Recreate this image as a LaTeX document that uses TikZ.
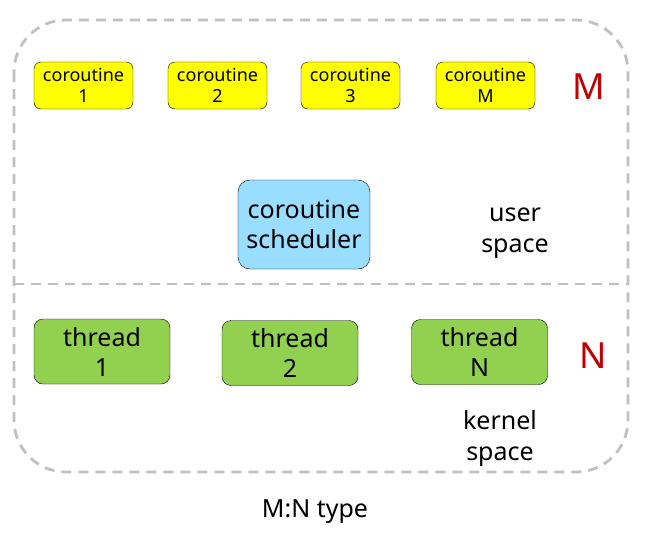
\documentclass[tikz,border=0pt]{standalone}
\usepackage{fontspec}
\setmainfont{Noto Sans}
\usepackage{xcolor}
\usetikzlibrary{positioning}

\definecolor{coyellow}{RGB}{255,255,0}
\definecolor{schedblue}{RGB}{153,221,255}
\definecolor{thgreen}{RGB}{146,208,80}
\definecolor{framegray}{RGB}{192,192,192}
\definecolor{countred}{RGB}{192,0,0}

\begin{document}
\begin{tikzpicture}[x=1pt, y=-1pt,
    corobox/.style={draw=black, fill=coyellow, rounded corners=7pt, minimum width=99pt,
        minimum height=47pt, inner sep=0pt, align=center, font=\fontsize{18}{21}\selectfont},
    schedbox/.style={draw=black, fill=schedblue, rounded corners=12pt, minimum width=132pt,
        minimum height=89pt, inner sep=0pt, align=center, font=\fontsize{25}{30}\selectfont},
    threadbox/.style={draw=black, fill=thgreen, rounded corners=9pt, minimum width=136pt,
        minimum height=65pt, inner sep=0pt, align=center, font=\fontsize{25}{30}\selectfont},
    label/.style={align=center, font=\fontsize{25}{31}\selectfont},
    count/.style={text=countred, font=\fontsize{36}{38}\selectfont},
    frame/.style={draw=framegray, line width=2.8pt, dash pattern=on 10pt off 7pt}]
    \useasboundingbox (0,0) rectangle (669,536);

    % outer frame and the user/kernel border
    \draw[frame, rounded corners=52pt] (14,20) rectangle (628,472);
    \draw[frame] (14,284) -- (628,284);

    % coroutines (M)
    \node[corobox] (co1) at (83.5,85.5) {coroutine\\1};
    \node[corobox] (co2) at (217.5,85.5) {coroutine\\2};
    \node[corobox] (co3) at (350.5,85.5) {coroutine\\3};
    \node[corobox] (coM) at (485.5,85.5) {coroutine\\M};
    \node[count] (M) at (589,87) {M};

    % scheduler
    \node[schedbox] (sched) at (304,224.5) {coroutine\\scheduler};
    \node[label] (user) at (515,233) {user\\space};

    % threads (N)
    \node[threadbox] (th1) at (102,351.5) {thread\\1};
    \node[threadbox] (th2) at (290,353) {thread\\2};
    \node[threadbox] (thN) at (479.5,352) {thread\\N};
    \node[count] (N) at (593,356) {N};
    \node[label] (kernel) at (500,438) {kernel\\space};

    \node[label] (title) at (315,512) {M:N type};
\end{tikzpicture}
\end{document}
